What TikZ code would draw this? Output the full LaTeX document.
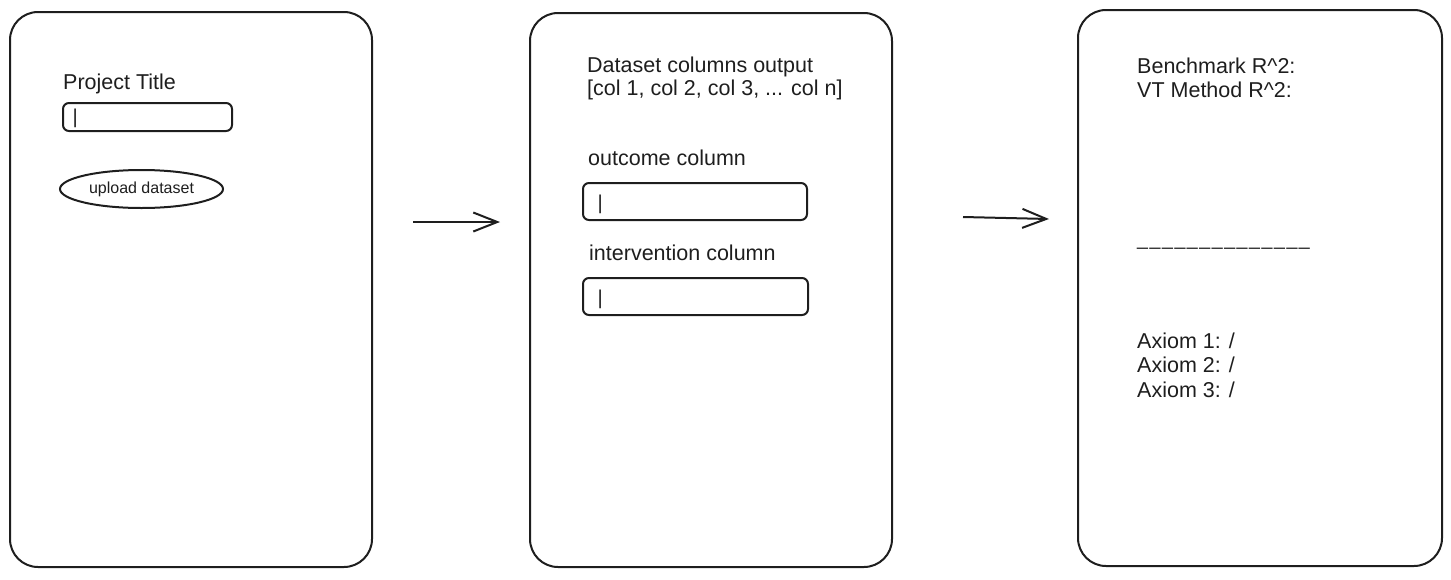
\documentclass[tikz,border=0pt]{standalone}
\usepackage{fontspec}
\setmainfont{Liberation Sans}
\usetikzlibrary{shapes.geometric,arrows.meta}
\definecolor{ink}{HTML}{1E1E1E}
\begin{document}
\begin{tikzpicture}[x=1pt,y=-1pt,
  panel/.style={draw=ink,line width=2pt,rounded corners=28pt,inner sep=0pt},
  inbox/.style={draw=ink,line width=2pt,rounded corners=6pt,inner sep=0pt},
  lbl/.style={anchor=base west,inner sep=0pt,text=ink,font=\fontsize{21.5}{24}\selectfont},
  cursor/.style={anchor=base west,inner sep=0pt,text=ink,font=\fontsize{20}{22}\selectfont},
  btn/.style={draw=ink,line width=2pt,ellipse,inner sep=0pt,text=ink,font=\fontsize{16}{18}\selectfont},
  flow/.style={draw=ink,line width=2pt,-{Straight Barb[length=24pt,width=19pt]}}]
\useasboundingbox (0,0) rectangle (1451,579);
% panels
\node[panel,minimum width=362pt,minimum height=555pt] (p1) at (191,289.5) {};
\node[panel,minimum width=362pt,minimum height=554pt] (p2) at (711,290) {};
\node[panel,minimum width=364pt,minimum height=556pt] (p3) at (1260,288) {};
% panel 1
\node[lbl] (ptitle) at (63,89) {Project Title};
\node[inbox,minimum width=169pt,minimum height=28pt] (tbox) at (147.5,117) {};
\node[cursor] (tcur) at (72.5,123) {|};
\node[btn,minimum width=163pt,minimum height=38pt] (upload) at (141.5,189) {upload dataset};
% panel 2
\node[lbl] (dcols) at (587,72) {Dataset columns output};
\node[lbl] (dlist) at (587,95) {[col 1, col 2, col 3, ... col n]};
\node[lbl] (outl) at (588,165) {outcome column};
\node[inbox,minimum width=224pt,minimum height=37pt] (obox) at (695,201.5) {};
\node[cursor] (ocur) at (597.5,209) {|};
\node[lbl] (intl) at (589,260) {intervention column};
\node[inbox,minimum width=225pt,minimum height=37pt] (ibox) at (695.5,296.5) {};
\node[cursor] (icur) at (597.5,304) {|};
% panel 3
\node[lbl] (bench) at (1137,73) {Benchmark R\^{}2:};
\node[lbl] (vtm) at (1137,97) {VT Method R\^{}2:};
\node[anchor=base west,inner sep=0pt,text=ink,font=\fontsize{19.5}{22}\selectfont] (sep) at (1137,245)
  {\_\kern1.6pt\_\kern1.6pt\_\kern1.6pt\_\kern1.6pt\_\kern1.6pt\_\kern1.6pt\_\kern1.6pt\_\kern1.6pt\_\kern1.6pt\_\kern1.6pt\_\kern1.6pt\_\kern1.6pt\_\kern1.6pt\_};
\node[lbl] (ax1) at (1137,348) {Axiom 1: /};
\node[lbl] (ax2) at (1137,372) {Axiom 2: /};
\node[lbl] (ax3) at (1137,397) {Axiom 3: /};
% arrows
\coordinate (a1s) at (413,222);
\coordinate (a1e) at (500,222);
\coordinate (a2s) at (963,217);
\coordinate (a2e) at (1049,219);
\draw[flow] (a1s) -- (a1e);
\draw[flow] (a2s) -- (a2e);
\end{tikzpicture}
\end{document}
